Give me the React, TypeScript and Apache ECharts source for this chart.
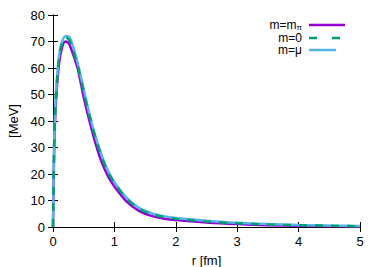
import React, { useEffect, useRef } from "react";
import * as echarts from "echarts";

const rValues = [0, 0.02, 0.05, 0.1, 0.15, 0.2, 0.25, 0.3, 0.4, 0.5, 0.6, 0.7, 0.8, 0.9, 1.0, 1.2, 1.4, 1.6, 1.8, 2.0, 2.5, 3.0, 3.5, 4.0, 4.5, 5.0];
const seriesMPi = [0, 30, 48, 62, 68, 70, 69.5, 67, 60, 49, 39.5, 31, 24, 19, 15.3, 9.6, 6.1, 4.2, 3.2, 2.6, 1.7, 1.1, 0.7, 0.45, 0.3, 0.2];
const seriesM0 = [0, 32, 50, 64, 69.5, 71.5, 71, 68.5, 61, 51, 41.5, 33, 26, 20.5, 16.6, 10.6, 6.9, 4.9, 3.8, 3.1, 2.1, 1.4, 0.95, 0.65, 0.45, 0.3];
const seriesMMu = [0, 33, 51, 65, 70, 72, 72, 70, 62, 52, 42, 33.5, 26.5, 21, 16.9, 11, 7.2, 5.2, 4.1, 3.4, 2.4, 1.6, 1.1, 0.8, 0.55, 0.4];
const xTicks = [0, 1, 2, 3, 4, 5];
const yTicks = [0, 10, 20, 30, 40, 50, 60, 70, 80];

const FONT = "Liberation Sans, Arial, sans-serif";

export default function App() {
  const ref = useRef<HTMLDivElement>(null);
  useEffect(() => {
    const chart = echarts.init(ref.current!, null, { renderer: "svg" });
    const pair = (ys: number[]) => rValues.map((r, i) => [r, ys[i]]);
    const axisCommon = {
      axisLine: { show: true, lineStyle: { color: "#000", width: 1 } },
      axisTick: { show: true, inside: true, length: 5, lineStyle: { color: "#000" } },
      splitLine: { show: false },
    };
    chart.setOption({
      animation: false,
      backgroundColor: "#fff",
      grid: { left: 53, right: 22, top: 15, bottom: 40, outerBoundsMode: "none", containLabel: false },
      xAxis: [
        {
          type: "value", min: xTicks[0], max: xTicks[xTicks.length - 1], interval: 1,
          ...axisCommon,
          axisLabel: { color: "#000", fontSize: 13, fontFamily: FONT, margin: 8 },
          name: "r [fm]", nameLocation: "middle", nameGap: 27,
          nameTextStyle: { color: "#000", fontSize: 13, fontFamily: FONT },
        },
        {
          type: "value", position: "top", min: 0, max: 5, interval: 1,
          ...axisCommon, axisLabel: { show: false },
        },
      ],
      yAxis: [
        {
          type: "value", min: yTicks[0], max: yTicks[yTicks.length - 1], interval: 10,
          ...axisCommon,
          axisLabel: { color: "#000", fontSize: 13, fontFamily: FONT, margin: 8 },
          name: "[MeV]", nameLocation: "middle", nameGap: 33, nameRotate: 90,
          nameTextStyle: { color: "#000", fontSize: 13, fontFamily: FONT },
        },
        {
          type: "value", position: "right", min: 0, max: 80, interval: 10,
          ...axisCommon, axisLabel: { show: false },
        },
      ],
      series: [
        { type: "line", name: "m=m_pi", data: pair(seriesMPi), smooth: 0.3, showSymbol: false, lineStyle: { color: "#9400D3", width: 2.5 }, z: 2 },
        { type: "line", name: "m=mu", data: pair(seriesMMu), smooth: 0.3, showSymbol: false, lineStyle: { color: "#56B4E9", width: 2.5 }, z: 3 },
        { type: "line", name: "m=0", data: pair(seriesM0), smooth: 0.3, showSymbol: false, lineStyle: { color: "#009E73", width: 2.5, type: [8, 8] }, z: 4 },
      ],
      graphic: [
        { type: "text", x: 302, y: 25, style: { text: "m=m{s|π}", align: "right", verticalAlign: "middle", fontSize: 12, fontFamily: FONT, fill: "#000", rich: { s: { fontSize: 8, fontFamily: FONT, padding: [4, 0, 0, 0] } } } },
        { type: "line", shape: { x1: 309, y1: 25, x2: 345, y2: 25 }, style: { stroke: "#9400D3", lineWidth: 2.5 } },
        { type: "text", x: 302, y: 37.5, style: { text: "m=0", align: "right", verticalAlign: "middle", fontSize: 12, fontFamily: FONT, fill: "#000" } },
        { type: "line", shape: { x1: 309, y1: 38, x2: 345, y2: 38 }, style: { stroke: "#009E73", lineWidth: 2.5, lineDash: [8, 15] } },
        { type: "text", x: 302, y: 50, style: { text: "m=μ", align: "right", verticalAlign: "middle", fontSize: 12, fontFamily: FONT, fill: "#000" } },
        { type: "line", shape: { x1: 309, y1: 50, x2: 336, y2: 50 }, style: { stroke: "#56B4E9", lineWidth: 2.5 } },
      ],
    });
    return () => chart.dispose();
  }, []);
  return <div ref={ref} style={{ width: 382, height: 267, position: "absolute", left: 0, top: 0 }} />;
}
